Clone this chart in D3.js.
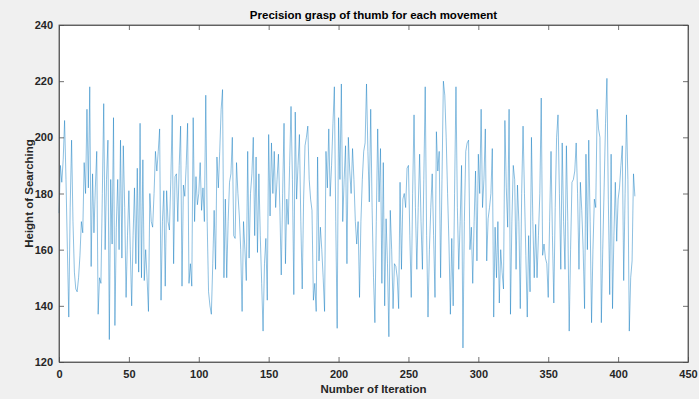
<!DOCTYPE html>
<html>
<head>
<meta charset="utf-8">
<script src="https://cdn.jsdelivr.net/npm/d3@7"></script>
<style>
  html, body { margin: 0; padding: 0; background: #f0f0f0; }
  svg { display: block; font-family: 'Liberation Sans', Arial, sans-serif; }
</style>
</head>
<body>
<div id="chart"></div>
<script>
// Height of searching in blocks of iterations
const iter000 = [173,190,184,192,206,185,160,136,175,199,170,152,146,145,150,158,170,166,191,180,
  210,182,218,154,187,166,182,195,137,150,148,180,212,160,185,199,128,185,162,207,
  133,168,185,160,199,157,197,175,143,165,181,160,140,165,182,155,189,152,205,150,
  192,149,160,150,138,180,170,168,180,195,188,195,203,142,170,181,147,181,170,167,
  185,208,155,186,187,170,190,204,147,183,179,190,205,148,155,147,207,170,186,176];
const iter100 = [180,191,174,182,170,215,170,145,140,137,155,174,153,193,182,195,210,217,150,178,
  150,170,184,187,200,165,164,191,180,172,160,138,170,160,149,195,157,180,187,200,
  165,193,159,187,165,148,131,155,164,142,201,172,198,180,195,175,185,194,175,151,
  180,205,155,178,169,190,211,185,144,209,178,190,201,170,146,178,197,200,204,185,
  178,174,142,148,138,193,156,168,160,150,138,195,182,203,179,190,205,218,170,132];
const iter200 = [207,185,219,170,185,197,155,200,188,180,196,185,170,162,170,143,170,185,195,198,
  219,195,177,210,175,150,134,170,203,177,196,148,191,140,171,155,129,174,160,139,
  155,154,150,139,184,153,178,180,175,189,190,165,143,180,208,175,153,175,194,170,
  153,185,218,165,136,160,175,187,165,143,202,188,195,150,185,220,215,200,180,162,
  137,164,140,180,218,175,153,170,190,125,170,195,198,199,160,168,148,170,188,156];
const iter300 = [194,180,210,175,185,203,156,171,175,180,196,136,168,150,170,141,160,152,146,206,
  182,168,210,137,170,190,185,153,183,170,139,180,204,180,158,136,165,145,200,170,
  150,169,150,165,180,214,158,162,157,155,143,170,195,165,141,175,200,208,180,153,
  198,170,153,197,170,131,160,184,185,188,198,180,153,184,174,160,139,194,160,199,
  170,134,160,178,175,210,203,200,134,160,182,205,221,178,144,194,139,165,184,163];
const iter400 = [178,182,190,197,149,180,208,185,131,150,156,187,179];

const heights = iter000.concat(iter100, iter200, iter300, iter400);

const xTicks = [0, 50, 100, 150, 200, 250, 300, 350, 400, 450];
const yTicks = [120, 140, 160, 180, 200, 220, 240];

const titleText = 'Precision grasp of thumb for each movement';
const xLabel = 'Number of Iteration';
const yLabel = 'Height of Searching';

const W = 699, H = 399;
const margin = {top: 25, right: 11, bottom: 37, left: 59};
const width = W - margin.left - margin.right;
const height = H - margin.top - margin.bottom;

const svg = d3.select('#chart').append('svg')
  .attr('width', W)
  .attr('height', H);

svg.append('rect')
  .attr('width', W)
  .attr('height', H)
  .attr('fill', '#f0f0f0');

const g = svg.append('g')
  .attr('transform', 'translate(' + margin.left + ',' + margin.top + ')');

const x = d3.scaleLinear().domain([0, 450]).range([0, width]);
const y = d3.scaleLinear().domain([120, 240]).range([height, 0]);

// plot area
g.append('rect')
  .attr('width', width)
  .attr('height', height)
  .attr('fill', '#ffffff');

// data line
const line = d3.line()
  .x((d, i) => x(i))
  .y(d => y(d));

g.append('path')
  .datum(heights)
  .attr('d', line)
  .attr('fill', 'none')
  .attr('stroke', '#0072BD')
  .attr('stroke-opacity', 0.75)
  .attr('stroke-width', 0.6)
  .attr('stroke-linejoin', 'round');

// axes, MATLAB style: ticks pointing inward on all four sides
const axisColor = '#4d4d4d';
const tickLen = 5;

const xAxis = d3.axisBottom(x).tickValues(xTicks).tickSizeInner(-tickLen).tickSizeOuter(0).tickPadding(8);
const yAxis = d3.axisLeft(y).tickValues(yTicks).tickSizeInner(-tickLen).tickSizeOuter(0).tickPadding(6);

const gx = g.append('g')
  .attr('transform', 'translate(0,' + height + ')')
  .call(xAxis);
const gy = g.append('g').call(yAxis);

g.append('g')
  .call(d3.axisTop(x).tickValues(xTicks).tickSizeInner(-tickLen).tickSizeOuter(0).tickFormat(''));
g.append('g')
  .attr('transform', 'translate(' + width + ',0)')
  .call(d3.axisRight(y).tickValues(yTicks).tickSizeInner(-tickLen).tickSizeOuter(0).tickFormat(''));

g.selectAll('.domain').attr('stroke', axisColor).attr('stroke-width', 0.8);
g.selectAll('.tick line').attr('stroke', axisColor).attr('stroke-width', 0.8);

[gx, gy].forEach(a => a.selectAll('text')
  .attr('fill', '#262626')
  .style('font-size', '11px')
  .style('font-weight', 'bold')
  .style('font-family', "'Liberation Sans', Arial, sans-serif"));

// box edges
g.append('rect')
  .attr('width', width)
  .attr('height', height)
  .attr('fill', 'none')
  .attr('stroke', axisColor)
  .attr('stroke-width', 0.8);

// title and labels
svg.append('text')
  .attr('x', margin.left + width / 2)
  .attr('y', 19)
  .attr('text-anchor', 'middle')
  .attr('fill', '#000')
  .style('font-size', '11.5px')
  .style('font-weight', 'bold')
  .text(titleText);

svg.append('text')
  .attr('x', margin.left + width / 2)
  .attr('y', 393)
  .attr('text-anchor', 'middle')
  .attr('fill', '#262626')
  .style('font-size', '11.5px')
  .style('font-weight', 'bold')
  .text(xLabel);

svg.append('text')
  .attr('transform', 'translate(33,' + (margin.top + height / 2) + ') rotate(-90)')
  .attr('text-anchor', 'middle')
  .attr('fill', '#262626')
  .style('font-size', '11.5px')
  .style('font-weight', 'bold')
  .text(yLabel);
</script>
</body>
</html>
